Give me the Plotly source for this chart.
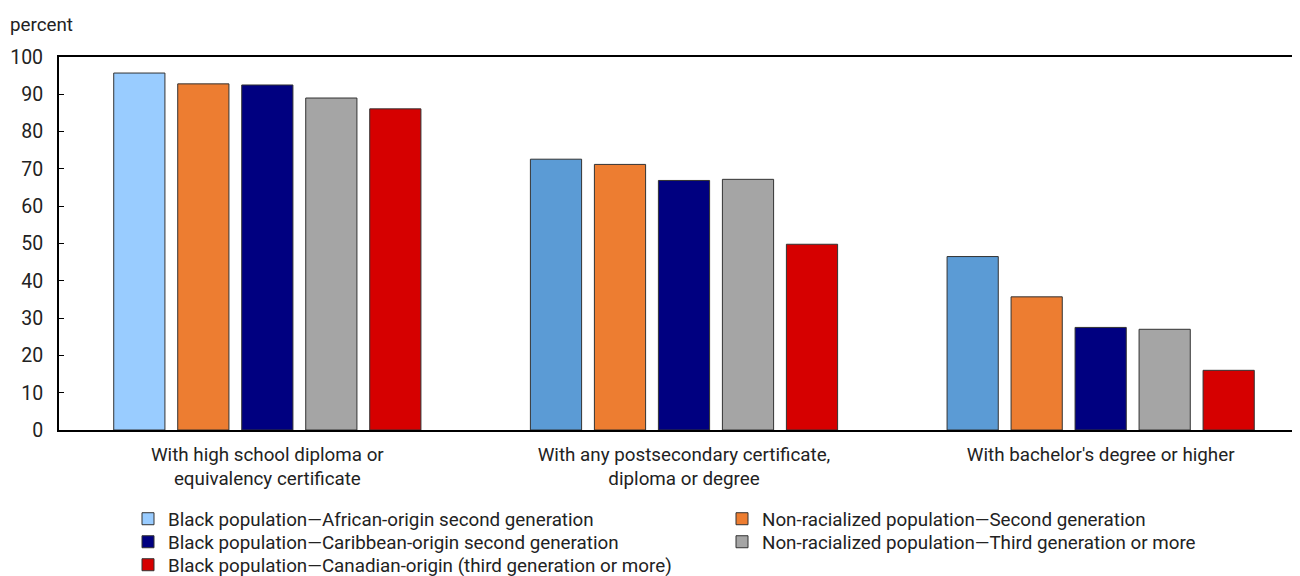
import plotly.graph_objects as go

categories = [
    "With high school diploma or<br>equivalency certificate",
    "With any postsecondary certificate,<br>diploma or degree",
    "With bachelor's degree or higher",
]
series_names = [
    "Black population\u2014African-origin second generation",
    "Non-racialized population\u2014Second generation",
    "Black population\u2014Caribbean-origin second generation",
    "Non-racialized population\u2014Third generation or more",
    "Black population\u2014Canadian-origin (third generation or more)",
]
african = [95.7, 72.6, 46.5]
nonrac_second = [92.8, 71.2, 35.7]
caribbean = [92.5, 66.9, 27.5]
nonrac_third = [89.0, 67.2, 27.0]
canadian = [86.1, 49.8, 16.0]
series_values = [african, nonrac_second, caribbean, nonrac_third, canadian]
y_ticks = [0, 10, 20, 30, 40, 50, 60, 70, 80, 90, 100]

colors = [
    ["#99CCFF", "#5B9BD5", "#5B9BD5"],
    "#ED7D31",
    "#000080",
    "#A5A5A5",
    "#D60000",
]
legend_ids = ["legend", "legend4", "legend2", "legend5", "legend3"]

FONT = "Roboto"
FS = 18.8
TXT = "#222222"

fig = go.Figure()
for name, vals, col, lg in zip(series_names, series_values, colors, legend_ids):
    fig.add_trace(go.Bar(
        x=categories, y=vals, name=name, legend=lg,
        marker=dict(color=col, line=dict(color="#333333", width=1)),
    ))

col1_x = 0.0632
col2_x = 0.5384
row_y = [-0.1877, -0.2494, -0.3110]


def leg(x, y):
    return dict(
        x=x, y=y, xanchor="left", yanchor="top", orientation="v",
        itemwidth=30, indentation=-10, bgcolor="rgba(0,0,0,0)",
        font=dict(family=FONT, size=FS, color=TXT),
    )


fig.update_layout(
    width=1301, height=568,
    margin=dict(l=51, r=0, t=49, b=146, autoexpand=False),
    plot_bgcolor="white", paper_bgcolor="white",
    barmode="group", bargap=0.232, bargroupgap=0.2,
    font=dict(family=FONT, size=FS, color=TXT),
    showlegend=True,
    legend=leg(col1_x, row_y[0]),
    legend2=leg(col1_x, row_y[1]),
    legend3=leg(col1_x, row_y[2]),
    legend4=leg(col2_x, row_y[0]),
    legend5=leg(col2_x, row_y[1]),
    xaxis=dict(
        showline=True, linecolor="black", linewidth=2, mirror=True,
        ticks="", tickfont=dict(family=FONT, size=FS, color=TXT),
        ticklabelstandoff=6,
    ),
    yaxis=dict(
        range=[0, 100], tickvals=y_ticks, showgrid=False,
        showline=True, linecolor="black", linewidth=2,
        ticks="inside", ticklen=5, tickcolor="black", tickwidth=1,
        ticklabelstandoff=10,
        tickfont=dict(family=FONT, size=19.5, color=TXT), zeroline=False,
    ),
    annotations=[dict(
        text="percent", xref="paper", yref="paper", x=-0.0408, y=1.051,
        xanchor="left", yanchor="bottom", showarrow=False,
        font=dict(family=FONT, size=FS, color=TXT),
    )],
)

fig.write_html("out.html")
